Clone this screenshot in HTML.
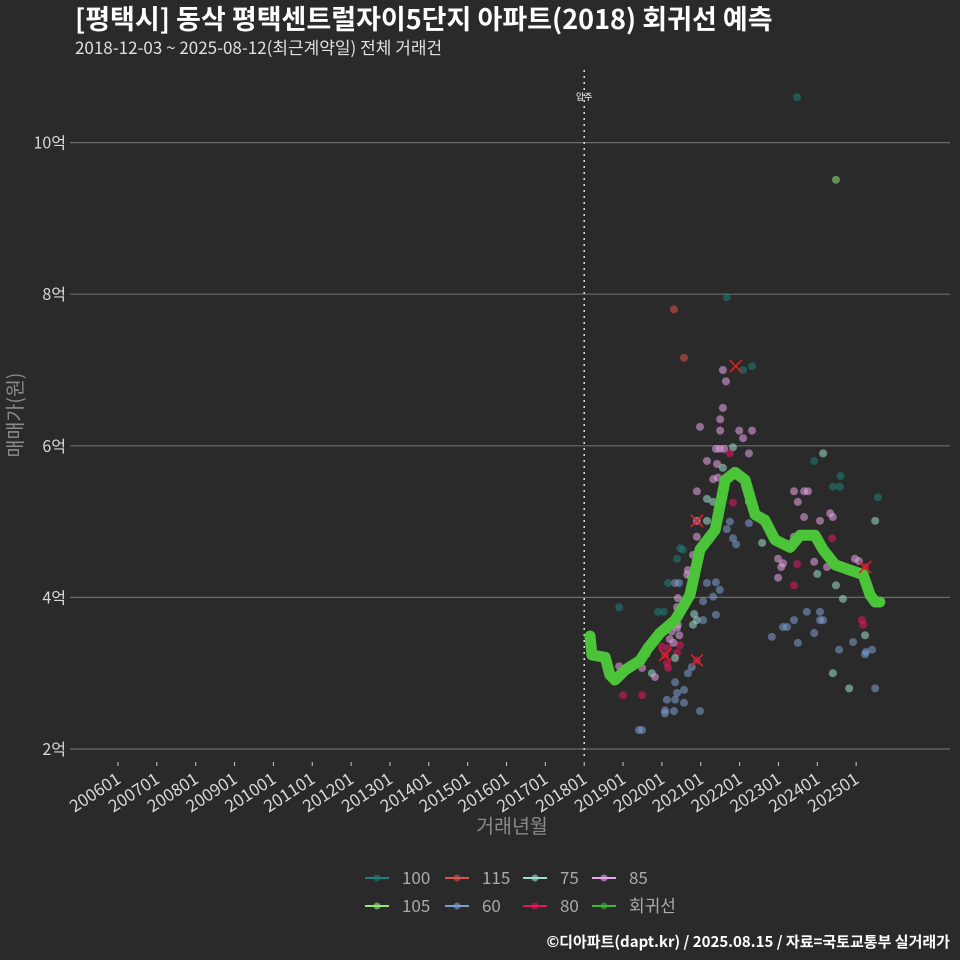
<!DOCTYPE html>
<html><head><meta charset="utf-8"><style>
body{margin:0;background:#2a2a2a;}
svg{display:block;font-family:"Noto Sans CJK KR","Liberation Sans",sans-serif;}
</style></head><body>
<svg id="chart" width="960" height="960" viewBox="0 0 960 960">
<rect width="960" height="960" fill="#2a2a2a"/>
<text x="75" y="29" fill="#ffffff" font-size="27" font-weight="bold">[평택시] 동삭 평택센트럴자이5단지 아파트(2018) 회귀선 예측</text>
<text x="75" y="54" fill="#e0e0e0" font-size="17">2018-12-03 ~ 2025-08-12(최근계약일) 전체 거래건</text>
<g id="grid"></g><g id="xaxis"></g><g id="pts"></g><g id="line"></g><g id="marks"></g>
<text transform="translate(22,415) rotate(-90)" text-anchor="middle" fill="#8a8a8a" font-size="19.5">매매가(원)</text>
<text x="512" y="833" text-anchor="middle" fill="#8a8a8a" font-size="19.5">거래년월</text>
<g id="legend"></g>
<text x="950" y="947" text-anchor="end" fill="#ffffff" font-size="15" font-weight="bold">©디아파트(dapt.kr) / 2025.08.15 / 자료=국토교통부 실거래가</text>
</svg>
<script>
const yTicks=[2,4,6,8,10];
const yTickLabels=["2억","4억","6억","8억","10억"];
const xTickYears=[2006,2007,2008,2009,2010,2011,2012,2013,2014,2015,2016,2017,2018,2019,2020,2021,2022,2023,2024,2025];
const xTickLabels=["200601","200701","200801","200901","201001","201101","201201","201301","201401","201501","201601","201701","201801","201901","202001","202101","202201","202301","202401","202501"];
const moveInYear=2018.0;
const lineYears=[2018.15,2018.20,2018.54,2018.66,2018.79,2019.05,2019.44,2019.64,2019.95,2020.34,2020.72,2020.98,2021.37,2021.63,2021.88,2022.14,2022.40,2022.65,2022.91,2023.30,2023.56,2023.94,2024.15,2024.46,2024.84,2025.18,2025.36,2025.49,2025.61];
const lineValues=[3.49,3.24,3.21,2.98,2.91,3.04,3.17,3.33,3.53,3.70,4.03,4.63,4.89,5.55,5.65,5.55,5.09,5.02,4.76,4.66,4.82,4.82,4.63,4.43,4.36,4.30,4.03,3.94,3.94];
const ptYears=[2023.48,2024.48,2021.67,2020.31,2020.57,2021.57,2022.09,2022.32,2021.65,2021.57,2021.50,2020.98,2021.50,2021.99,2022.32,2022.09,2021.83,2021.39,2021.49,2021.60,2021.75,2022.24,2024.15,2023.92,2021.16,2021.42,2021.57,2021.32,2021.44,2024.6,2024.40,2024.58,2023.40,2023.66,2023.76,2020.90,2025.56,2023.50,2021.16,2021.32,2022.24,2021.83,2024.33,2024.4,2023.66,2024.07,2020.90,2021.16,2025.49,2021.75,2022.24,2022.58,2021.67,2020.90,2023.40,2024.38,2021.83,2021.91,2022.58,2020.47,2020.54,2020.39,2020.80,2020.90,2022.99,2023.12,2023.07,2023.92,2023.48,2024.97,2025.07,2025.23,2024.25,2020.67,2020.65,2020.75,2022.99,2024.0,2023.40,2024.48,2020.16,2020.34,2020.44,2021.16,2021.39,2021.49,2020.72,2020.41,2020.39,2020.46,2021.06,2021.32,2024.66,2018.90,2019.90,2020.05,2020.83,2020.80,2020.90,2021.06,2021.39,2020.29,2020.41,2020.39,2023.73,2024.07,2024.07,2024.15,2023.40,2023.22,2023.12,2023.92,2022.83,2023.50,2025.15,2025.18,2025.23,2024.92,2024.56,2025.41,2025.25,2025.23,2024.40,2024.82,2025.49,2020.08,2020.16,2020.13,2020.16,2020.39,2020.47,2020.90,2020.77,2020.67,2020.34,2019.74,2019.82,2018.90,2019.49,2019.0,2019.49,2020.34,2020.39,2020.34,2020.57,2020.57,2020.13,2020.08,2020.08,2020.31,2020.98,2019.41,2019.49,2020.2,2020.25,2020.3,2020.45,2020.0,2019.6];
const ptValues=[10.60,9.51,7.96,7.80,7.16,7.00,7.00,7.05,6.85,6.50,6.35,6.25,6.20,6.20,6.20,6.10,5.98,5.96,5.96,5.96,5.90,5.90,5.90,5.80,5.80,5.76,5.71,5.56,5.58,5.60,5.46,5.46,5.40,5.40,5.40,5.40,5.32,5.26,5.30,5.26,5.26,5.25,5.11,5.06,5.06,5.01,5.01,5.01,5.01,5.00,4.98,5.00,4.90,4.80,4.80,4.78,4.78,4.70,4.72,4.65,4.63,4.51,4.56,4.52,4.51,4.45,4.40,4.47,4.44,4.51,4.48,4.40,4.40,4.36,4.30,4.27,4.26,4.31,4.16,4.16,4.19,4.19,4.19,4.19,4.20,4.10,4.14,3.99,3.87,3.83,3.95,4.01,3.98,3.87,3.81,3.81,3.78,3.64,3.70,3.70,3.77,3.70,3.64,3.60,3.81,3.81,3.70,3.70,3.70,3.61,3.61,3.53,3.48,3.40,3.70,3.64,3.50,3.41,3.31,3.31,3.28,3.25,3.00,2.80,2.80,3.24,3.33,3.13,3.07,3.27,3.37,3.17,3.08,3.00,3.20,3.00,2.95,3.09,3.07,2.71,2.71,2.88,2.74,2.65,2.78,2.61,2.65,2.51,2.47,2.50,2.50,2.25,2.25,3.45,3.55,3.40,3.50,3.35,3.25];
const ptTypes=["100","105","100","115","115","85","100","100","85","85","85","85","85","85","85","85","75","85","85","85","80","85","75","100","85","85","75","85","85","100","100","100","85","85","85","85","100","85","75","75","75","80","85","85","85","85","85","75","75","60","60","80","60","85","85","80","60","60","75","100","100","100","85","85","85","85","85","85","80","85","85","80","85","85","85","85","85","75","80","75","100","60","60","60","60","60","80","85","85","85","60","60","75","100","100","100","75","75","75","60","60","85","85","85","60","60","60","60","60","60","60","60","60","60","80","80","75","60","60","60","60","60","75","75","60","80","80","80","80","80","80","80","60","60","75","75","85","85","85","80","80","60","60","60","60","60","60","60","60","60","60","60","60","85","85","85","85","80","85"];
const xMarkYears=[2020.08,2020.90,2020.90,2021.9,2025.23];
const xMarkValues=[3.24,3.17,5.01,7.05,4.40];
const colors={"100":"#1e8078","115":"#d9534f","75":"#9fe0d4","85":"#eaa6ea","105":"#8fe878","60":"#7d9fd0","80":"#e8155e"};
const legendLabels=["100","115","75","85","105","60","80","회귀선"];
const legendColors=["#1e8078","#d9534f","#9fe0d4","#eaa6ea","#8fe878","#7d9fd0","#e8155e","#3cb83c"];
const NS="http://www.w3.org/2000/svg";
const X=y=>118+(y-2006)*38.85;
const Y=v=>749-(v-2)*75.8;
function mk(tag,attrs,parent,text){const e=document.createElementNS(NS,tag);for(const k in attrs)e.setAttribute(k,attrs[k]);if(text!==undefined)e.textContent=text;parent.appendChild(e);return e;}
const grid=document.getElementById('grid');
yTicks.forEach((t,i)=>{
  const l=mk('line',{x1:70,x2:950,y1:Y(t),y2:Y(t),stroke:'#6a6a6a','stroke-width':1.2},grid);
  
  
  const tx=mk('text',{x:66,y:Y(t)+6,'text-anchor':'end',fill:'#d8d8d8','font-size':16},grid,yTickLabels[i]);
  
  
});
const xa=document.getElementById('xaxis');
xTickYears.forEach((yr,i)=>{
  const x=X(yr);
  const t=mk('line',{x1:x,x2:x,y1:762,y2:766,stroke:'#cccccc','stroke-width':1},xa);
  
  
  const tx=mk('text',{transform:`translate(${x+4},${782}) rotate(-33)`,'text-anchor':'end',fill:'#d8d8d8','font-size':17},xa,xTickLabels[i]);
  
  
});
const vx=X(moveInYear);
const vl=mk('line',{x1:vx,x2:vx,y1:70,y2:760,stroke:'#dddddd','stroke-width':1.5,'stroke-dasharray':'2,4'},xa);


const vt=mk('text',{x:vx,y:100,'text-anchor':'middle',fill:'#ffffff','font-size':9},xa,'입주');


const pg=document.getElementById('pts');
ptYears.forEach((yr,i)=>{
  const c=mk('circle',{cx:X(yr),cy:Y(ptValues[i]),r:4,fill:colors[ptTypes[i]],'fill-opacity':0.55},pg);
  
  
});
const lg=document.getElementById('line');
const p=mk('polyline',{points:lineYears.map((y,i)=>X(y)+','+Y(lineValues[i])).join(' '),fill:'none',stroke:'#4cc43a','stroke-width':11,'stroke-linejoin':'round','stroke-linecap':'round'},lg);


const mg=document.getElementById('marks');
xMarkYears.forEach((yr,i)=>{
  const x=X(yr),y=Y(xMarkValues[i]);
  const g=mk('path',{d:`M${x-6},${y-6}L${x+6},${y+6}M${x+6},${y-6}L${x-6},${y+6}`,stroke:'#e02020','stroke-width':1.6},mg);
  
  
});
const leg=document.getElementById('legend');
const colX=[365,445,523,592];
legendLabels.forEach((lab,i)=>{
  const x=colX[i%4],y=i<4?878:906;
  const g=mk('g',{},leg);
  
  
  mk('line',{x1:x,x2:x+24,y1:y,y2:y,stroke:legendColors[i],'stroke-width':2},g);
  mk('circle',{cx:x+12,cy:y,r:3.5,fill:legendColors[i],'fill-opacity':0.6},g);
  mk('text',{x:x+37,y:y+6,fill:'#aaaaaa','font-size':17},g,lab);
});
</script>
</body></html>
